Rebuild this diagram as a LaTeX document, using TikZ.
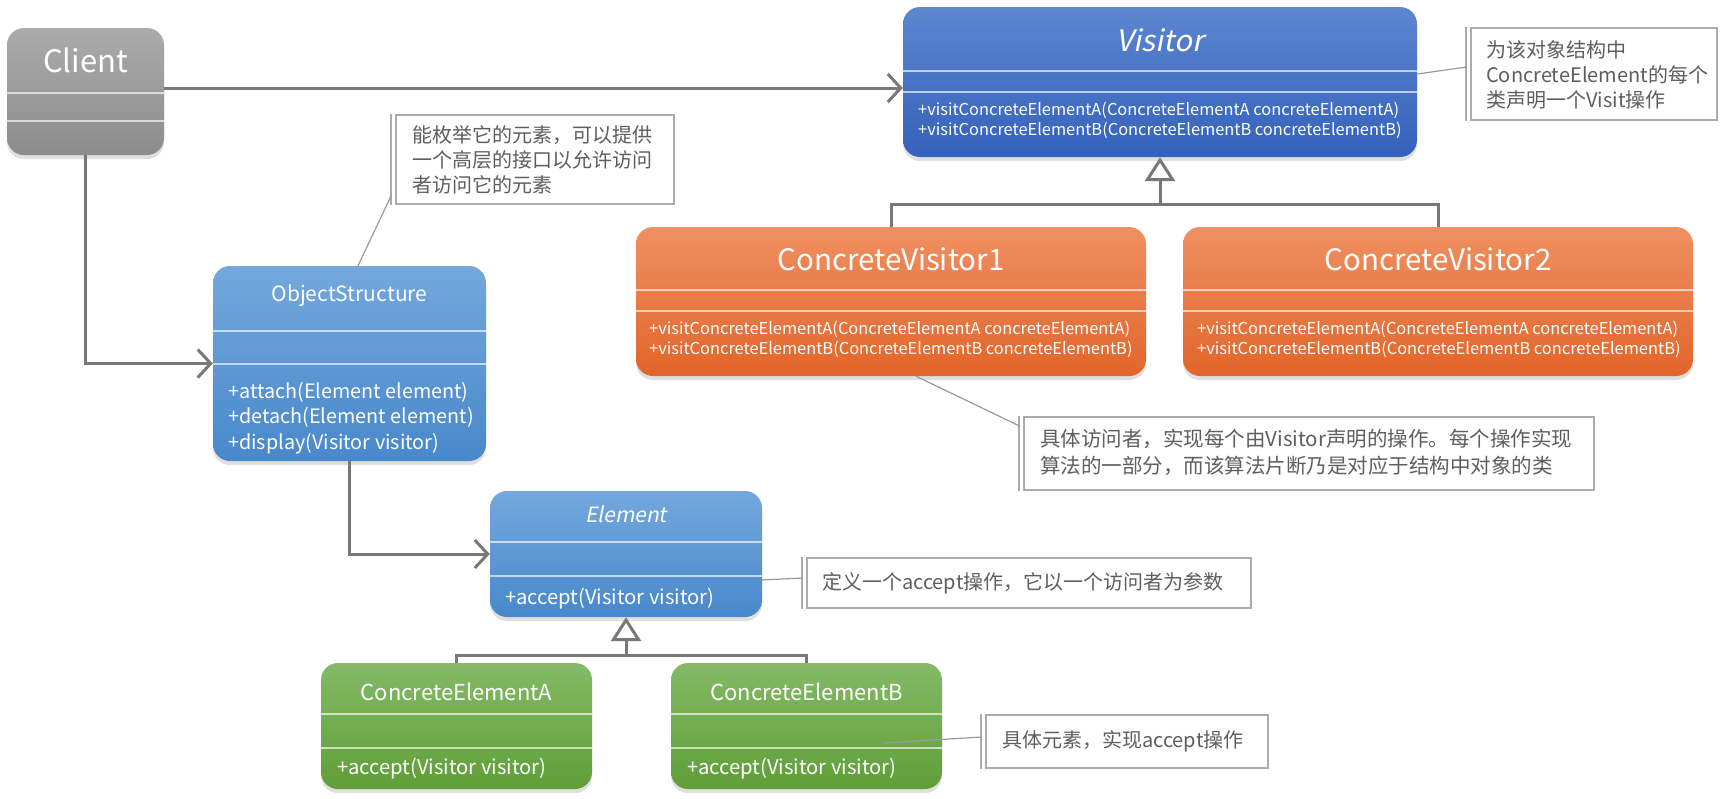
\documentclass[tikz,border=0pt]{standalone}
\usepackage{fontspec}
\setmainfont{Noto Sans CJK SC}
\newfontfamily\slantfont{Noto Sans CJK SC}[FakeSlant=0.2]
\usetikzlibrary{arrows.meta,shadows,calc}
\definecolor{linegray}{HTML}{787878}
\definecolor{notegray}{HTML}{ABABAB}
\definecolor{callgray}{HTML}{9A9A9A}
\definecolor{notetxt}{HTML}{5E5E5E}
\definecolor{grayT}{HTML}{ABABAB}
\definecolor{grayB}{HTML}{8C8C8C}
\definecolor{dblueT}{HTML}{5D86CF}
\definecolor{dblueB}{HTML}{3461BB}
\definecolor{lblueT}{HTML}{74A8DD}
\definecolor{lblueB}{HTML}{4888CB}
\definecolor{orT}{HTML}{EF9062}
\definecolor{orB}{HTML}{E2652A}
\definecolor{grT}{HTML}{84BA66}
\definecolor{grB}{HTML}{5F9E38}
\begin{document}
\begin{tikzpicture}[x=1pt,y=-1pt,
  box/.style={rounded corners=17pt, draw=none, inner sep=0pt, shading=axis,
    drop shadow={opacity=0.25, shadow xshift=0pt, shadow yshift=-4pt}},
  divider/.style={draw=white, draw opacity=0.65, line width=1.5pt},
  ttl/.style={text=white, inner sep=0pt, anchor=center},
  meth/.style={text=white, inner sep=0pt, anchor=west, align=left},
  conn/.style={draw=linegray, line width=3pt},
  assoc/.style={conn, -{Straight Barb[length=13pt,width=28pt]}},
  gen/.style={conn, -{Triangle[open,length=24pt,width=30pt,fill=white]}},
  notebox/.style={draw=notegray, line width=1.3pt, fill=white, inner sep=0pt},
  bracketline/.style={draw=notegray, line width=1.3pt},
  callout/.style={draw=callgray, line width=1.2pt},
  notetext/.style={text=notetxt, inner sep=0pt, anchor=west, align=left}
]
\fill[white] (0,0) rectangle (1721,798);
\useasboundingbox (0,0) rectangle (1721,798);

% ---- class boxes
\node[box, top color=grayT, bottom color=grayB, minimum width=157pt, minimum height=127pt] (client) at (85.5,91.5) {};
\node[box, top color=dblueT, bottom color=dblueB, minimum width=514pt, minimum height=150pt] (visitor) at (1160,82) {};
\node[box, top color=orT, bottom color=orB, minimum width=510pt, minimum height=149pt] (cv1) at (891,301.5) {};
\node[box, top color=orT, bottom color=orB, minimum width=510pt, minimum height=149pt] (cv2) at (1438,301.5) {};
\node[box, top color=lblueT, bottom color=lblueB, minimum width=273pt, minimum height=195pt] (os) at (349.5,363.5) {};
\node[box, top color=lblueT, bottom color=lblueB, minimum width=272pt, minimum height=126pt] (element) at (626,554) {};
\node[box, top color=grT, bottom color=grB, minimum width=271pt, minimum height=126pt] (cea) at (456.5,726) {};
\node[box, top color=grT, bottom color=grB, minimum width=271pt, minimum height=126pt] (ceb) at (806.5,726) {};

% ---- dividers
\foreach \n/\a/\b in {client/93/121, visitor/71/92, cv1/290/311, cv2/290/311, os/331/364, element/542/576, cea/714/748, ceb/714/748}{
  \draw[divider] (\n.west |- 0,\a) -- (\n.east |- 0,\a);
  \draw[divider] (\n.west |- 0,\b) -- (\n.east |- 0,\b);
}

% ---- texts in boxes
\node[ttl, font=\fontsize{31}{36}\selectfont] (client-t) at (85.5,60) {Client};
\node[ttl, font=\slantfont\fontsize{29.5}{34}\selectfont] (visitor-t) at (1160,40) {Visitor};
\node[meth, font=\fontsize{16.4}{20}\selectfont] (visitor-m) at (918,120) {+visitConcreteElementA(ConcreteElementA concreteElementA)\\+visitConcreteElementB(ConcreteElementB concreteElementB)};
\node[ttl, font=\fontsize{29.5}{34}\selectfont] (cv1-t) at (891,259) {ConcreteVisitor1};
\node[meth, font=\fontsize{16.4}{19.5}\selectfont] (cv1-m) at (649,339.5) {+visitConcreteElementA(ConcreteElementA concreteElementA)\\+visitConcreteElementB(ConcreteElementB concreteElementB)};
\node[ttl, font=\fontsize{29.5}{34}\selectfont] (cv2-t) at (1438,259) {ConcreteVisitor2};
\node[meth, font=\fontsize{16.4}{19.5}\selectfont] (cv2-m) at (1197,339.5) {+visitConcreteElementA(ConcreteElementA concreteElementA)\\+visitConcreteElementB(ConcreteElementB concreteElementB)};
\node[ttl, font=\fontsize{21}{25}\selectfont] (os-t) at (349.5,296) {ObjectStructure};
\node[meth, font=\fontsize{19.8}{25.5}\selectfont] (os-m) at (228,418) {+attach(Element element)\\+detach(Element element)\\+display(Visitor visitor)};
\node[ttl, font=\slantfont\fontsize{21}{25}\selectfont] (element-t) at (626,514) {Element};
\node[meth, font=\fontsize{20.2}{25}\selectfont] (element-m) at (505,599) {+accept(Visitor visitor)};
\node[ttl, font=\fontsize{22}{26}\selectfont] (cea-t) at (456.5,692) {ConcreteElementA};
\node[meth, font=\fontsize{20.2}{25}\selectfont] (cea-m) at (337,769) {+accept(Visitor visitor)};
\node[ttl, font=\fontsize{22}{26}\selectfont] (ceb-t) at (806.5,692) {ConcreteElementB};
\node[meth, font=\fontsize{20.2}{25}\selectfont] (ceb-m) at (687,769) {+accept(Visitor visitor)};

% ---- connectors
\coordinate (vjoin) at (1160,204);
\coordinate (ejoin) at (626,655);
\draw[assoc] (client.east |- 0,88) -- (visitor.west |- 0,88);
\draw[assoc] (client.south) |- (os.west);
\draw[assoc] (os.south) |- (element.west);
\draw[conn] (cv1.north) -- (cv1.north |- vjoin) -- (cv2.north |- vjoin) -- (cv2.north);
\draw[gen] (vjoin) -- (visitor.south);
\draw[conn] (cea.north) -- (cea.north |- ejoin) -- (ceb.north |- ejoin) -- (ceb.north);
\draw[gen] (ejoin) -- (element.south);

% ---- notes
\node[notebox, minimum width=278pt, minimum height=89pt] (osnote) at (535,159.5) {};
\node[notebox, minimum width=246pt, minimum height=92pt] (vnote) at (1594,74) {};
\node[notebox, minimum width=570pt, minimum height=73pt] (cvnote) at (1309,453.5) {};
\node[notebox, minimum width=444pt, minimum height=50pt] (enote) at (1029,583) {};
\node[notebox, minimum width=282pt, minimum height=53pt] (cebnote) at (1127,741.5) {};
\foreach \n in {osnote, vnote, cvnote, enote, cebnote}{
  \draw[bracketline] ($(\n.north west)+(-4.5,0)$) -- ($(\n.south west)+(-4.5,0)$);
}
\node[notetext, font=\fontsize{20}{25}\selectfont] (osnote-t) at (412,160) {能枚举它的元素，可以提供\\一个高层的接口以允许访问\\者访问它的元素};
\node[notetext, font=\fontsize{20}{25}\selectfont] (vnote-t) at (1486,75) {为该对象结构中\\ConcreteElement的每个\\类声明一个Visit操作};
\node[notetext, font=\fontsize{20.5}{27}\selectfont] (cvnote-t) at (1040,452) {具体访问者，实现每个由Visitor声明的操作。每个操作实现\\算法的一部分，而该算法片断乃是对应于结构中对象的类};
\node[notetext, font=\fontsize{20}{25}\selectfont] (enote-t) at (822,583) {定义一个accept操作，它以一个访问者为参数};
\node[notetext, font=\fontsize{20}{25}\selectfont] (cebnote-t) at (1002,741.5) {具体元素，实现accept操作};

% ---- callout lines
\coordinate (osnote-b) at (391.5,195);
\coordinate (vnote-b) at (1466.5,67);
\coordinate (cvnote-b) at (1019.5,426);
\coordinate (enote-b) at (802.5,578);
\coordinate (cebnote-b) at (981.5,737);
\coordinate (ceb-c) at (884,743);
\draw[callout] (os.north -| 358,0) -- (osnote-b);
\draw[callout] (visitor.east |- 0,74) -- (vnote-b);
\draw[callout] (cv1.south -| 916,0) -- (cvnote-b);
\draw[callout] (element.east |- 0,580) -- (enote-b);
\draw[callout] (ceb-c) -- (cebnote-b);
\end{tikzpicture}
\end{document}
